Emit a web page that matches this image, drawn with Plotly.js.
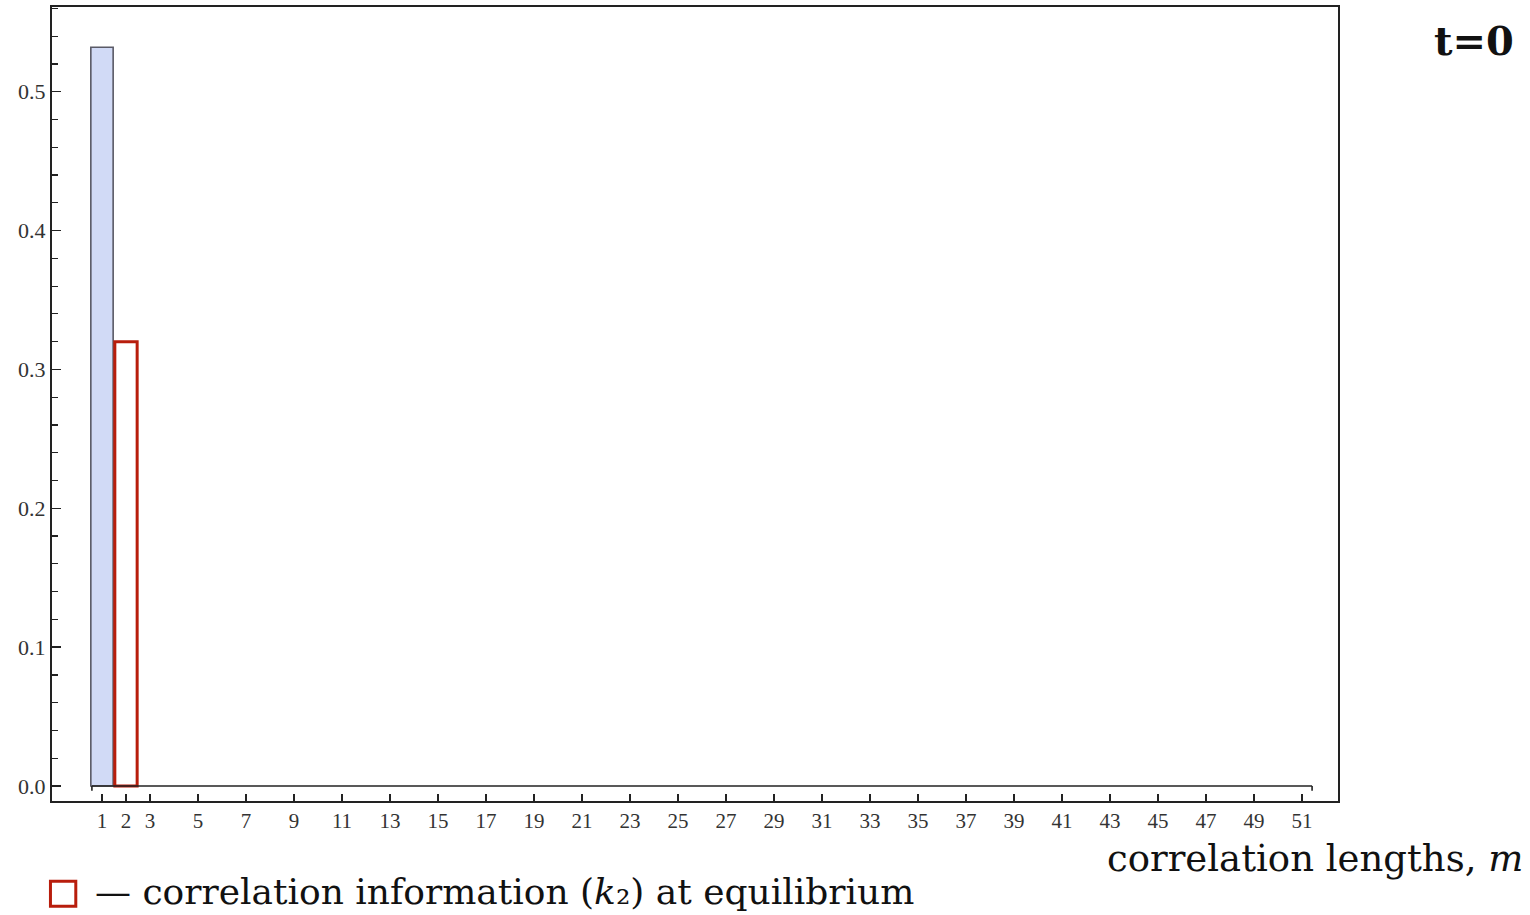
<!DOCTYPE html>
<html>
<head>
<meta charset="utf-8">
<script src="https://cdn.plot.ly/plotly-3.0.1.min.js"></script>
<style>
html,body{margin:0;padding:0;background:#fff;}
#chart{width:1530px;height:915px;}
</style>
</head>
<body>
<div id="chart"></div>
<script>
// ---- data ----
const lengths = [1,2,3,4,5,6,7,8,9,10,11,12,13,14,15,16,17,18,19,20,21,22,23,24,25,26,27,28,29,30,31,32,33,34,35,36,37,38,39,40,41,42,43,44,45,46,47,48,49,50,51];
const currentM = [1];
const currentValues = [0.532];
const equilibriumM = [2];
const equilibriumValues = [0.32];
const tickValues = [1,2,3,5,7,9,11,13,15,17,19,21,23,25,27,29,31,33,35,37,39,41,43,45,47,49,51];
const tickLabels = ["1","2","3","5","7","9","11","13","15","17","19","21","23","25","27","29","31","33","35","37","39","41","43","45","47","49","51"];
const timeLabel = "t=0";
const xLabel = "correlation lengths, <i>m</i>";
const legendLabel = "— correlation information (<i>k</i>₂) at equilibrium";

const serif = "Liberation Serif, DejaVu Serif, serif";
const wideSerif = "DejaVu Serif, Liberation Serif, serif";
const mMin = Math.min(...lengths), mMax = Math.max(...lengths);

const traces = [
  {type:'bar', x: currentM, y: currentValues, width: 0.93,
   marker:{color:'#d1daf6', line:{color:'#5a5a66', width:1.6}}, hoverinfo:'x+y'},
  {type:'bar', x: equilibriumM, y: equilibriumValues, width: 0.93,
   marker:{color:'rgba(0,0,0,0)', line:{color:'#b81d0c', width:3}}, hoverinfo:'x+y'}
];

const layout = {
  width:1530, height:915,
  margin:{l:52, r:192, t:7, b:114},
  paper_bgcolor:'#fff', plot_bgcolor:'#fff',
  showlegend:false, barmode:'overlay',
  font:{family:serif, color:'#222'},
  xaxis:{range:[mMin-2.083, mMax+1.5], tickmode:'array', tickvals:tickValues, ticktext:tickLabels,
         ticks:'inside', ticklen:7, tickwidth:1.5, tickcolor:'#222',
         showline:true, mirror:true, linecolor:'#222', linewidth:2,
         showgrid:false, zeroline:false, tickfont:{family:serif, size:21, color:'#333'}},
  yaxis:{range:[-0.0108, 0.561], tickmode:'array', tickvals:[0,0.1,0.2,0.3,0.4,0.5],
         ticktext:['0.0','0.1','0.2','0.3','0.4','0.5'],
         ticks:'inside', ticklen:9, tickwidth:1.5, tickcolor:'#222',
         minor:{dtick:0.02, tick0:0, ticks:'inside', ticklen:6, tickwidth:1.2, tickcolor:'#222', showgrid:false},
         showline:true, mirror:true, linecolor:'#222', linewidth:2,
         showgrid:false, zeroline:false, tickfont:{family:serif, size:22, color:'#333'}},
  shapes:[
    {type:'line', xref:'x', yref:'y', x0:mMin-0.42, x1:mMax+0.42, y0:0, y1:0, line:{color:'#222', width:1.6}},
    {type:'line', xref:'x', yref:'y', x0:mMin-0.42, x1:mMin-0.42, y0:0, y1:-0.0035, line:{color:'#222', width:1.6}},
    {type:'line', xref:'x', yref:'y', x0:mMax+0.42, x1:mMax+0.42, y0:0, y1:-0.0035, line:{color:'#222', width:1.6}},
    {type:'rect', xref:'paper', yref:'paper', x0:-0.0012, x1:0.0185, y0:-0.1010, y1:-0.1325,
     line:{color:'#b81d0c', width:3}, fillcolor:'rgba(0,0,0,0)'}
  ],
  annotations:[
    {text:timeLabel, xref:'paper', yref:'paper', x:1.1385, y:0.958, xanchor:'right', yanchor:'middle',
     showarrow:false, font:{family:wideSerif, size:40, color:'#111', weight:'bold'}},
    {text:xLabel, xref:'paper', yref:'paper', x:1.1454, y:-0.0718, xanchor:'right', yanchor:'middle',
     showarrow:false, font:{family:wideSerif, size:37, color:'#111'}},
    {text:legendLabel, xref:'paper', yref:'paper', x:0.0319, y:-0.1146, xanchor:'left', yanchor:'middle',
     showarrow:false, font:{family:wideSerif, size:36, color:'#111'}}
  ]
};

Plotly.newPlot('chart', traces, layout, {displayModeBar:false, staticPlot:true});
</script>
</body>
</html>
